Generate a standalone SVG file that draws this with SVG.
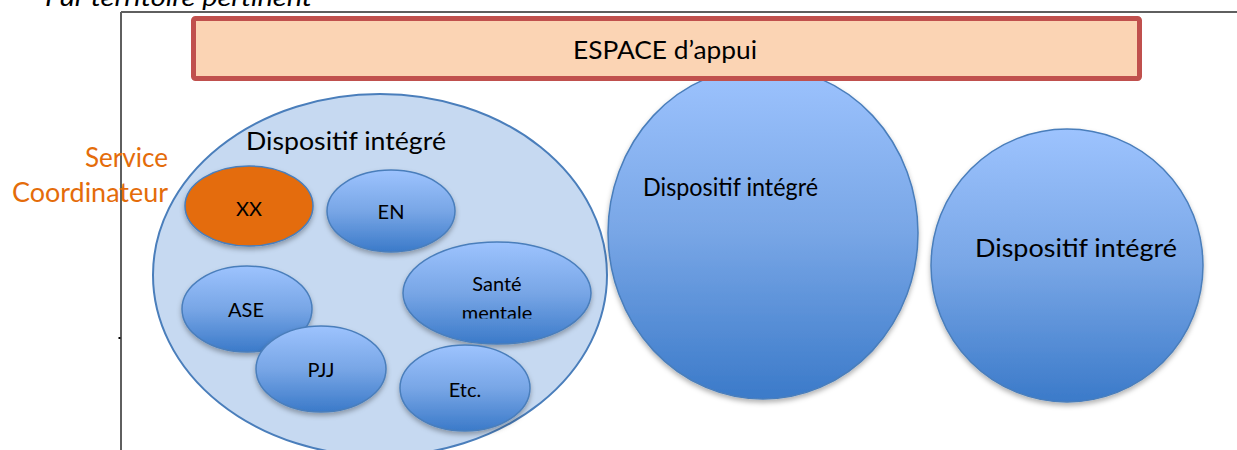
<svg xmlns="http://www.w3.org/2000/svg" width="1237" height="450" viewBox="0 0 1237 450">
  <style>
    text { font-family: Lato, "Open Sans", "Liberation Sans", sans-serif; fill: #000; }
    .frame { stroke: #5f5f5f; stroke-width: 2; fill: none; }
    .outer { fill: #C6D9F1; stroke: #4A7EBB; stroke-width: 2; }
    .unit { fill: url(#blueGrad); stroke: #4A7EBB; stroke-width: 1.5; filter: url(#shadow); }
    .big { fill: url(#blueGrad); stroke: #4A7EBB; stroke-width: 1.5; filter: url(#shadow); }
    .coord { fill: #E46C0A; stroke: #4A7EBB; stroke-width: 1.5; filter: url(#shadow); }
    .lbl-big { font-size: 25px; }
    .lbl-unit { font-size: 20px; text-anchor: middle; }
    .orange { fill: #E46C0A; font-size: 26px; text-anchor: end; }
  </style>
  <defs>
    <linearGradient id="blueGrad" x1="0" y1="0" x2="0" y2="1">
      <stop offset="0" stop-color="#9DC3FE"/>
      <stop offset="0.5" stop-color="#78A6E6"/>
      <stop offset="1" stop-color="#3B7AC9"/>
    </linearGradient>
    <filter id="shadow" x="-10%" y="-10%" width="120%" height="125%">
      <feDropShadow dx="0" dy="3" stdDeviation="2.5" flood-color="#000" flood-opacity="0.3"/>
    </filter>
    <clipPath id="santeClip">
      <rect x="400" y="240" width="200" height="78.5"/>
    </clipPath>
  </defs>

  <!-- territory frame -->
  <g id="frame">
    <line class="frame" x1="121" y1="12" x2="121" y2="450"/>
    <line class="frame" x1="121" y1="12" x2="1237" y2="12"/>
    <rect x="118.5" y="337" width="2" height="2" fill="#000"/>
  </g>

  <g id="title">
    <text x="45" y="6" font-size="24" font-style="italic" textLength="267" lengthAdjust="spacingAndGlyphs">Par territoire pertinent</text>
  </g>

  <!-- first integrated system with its member services -->
  <g id="dispositif-1">
    <ellipse class="outer" cx="380" cy="275" rx="227" ry="181"/>
    <text class="lbl-big" x="246" y="150" textLength="200" lengthAdjust="spacingAndGlyphs">Dispositif intégré</text>
  </g>

  <g id="service-coordinateur">
    <text class="orange" x="168" y="167" textLength="83" lengthAdjust="spacingAndGlyphs">Service</text>
    <text class="orange" x="168" y="202" textLength="156" lengthAdjust="spacingAndGlyphs">Coordinateur</text>
  </g>

  <g id="xx">
    <ellipse class="coord" cx="249" cy="206" rx="64" ry="40"/>
    <text class="lbl-unit" x="249" y="216" font-size="21">XX</text>
  </g>

  <g id="en">
    <ellipse class="unit" cx="391" cy="211" rx="64" ry="41"/>
    <text class="lbl-unit" x="391" y="219">EN</text>
  </g>

  <g id="sante-mentale">
    <ellipse class="unit" cx="497" cy="293" rx="94" ry="51"/>
    <text class="lbl-unit" x="497" y="291">Santé</text>
    <text class="lbl-unit" x="497" y="320" clip-path="url(#santeClip)">mentale</text>
  </g>

  <g id="ase">
    <ellipse class="unit" cx="247" cy="309" rx="65" ry="43"/>
    <text class="lbl-unit" x="246" y="317">ASE</text>
  </g>

  <g id="pjj">
    <ellipse class="unit" cx="321" cy="369" rx="65" ry="43"/>
    <text class="lbl-unit" x="321" y="377">PJJ</text>
  </g>

  <g id="etc">
    <ellipse class="unit" cx="465" cy="388" rx="65" ry="43"/>
    <text class="lbl-unit" x="465" y="397">Etc.</text>
  </g>

  <!-- second and third integrated systems -->
  <g id="dispositif-2">
    <ellipse class="big" cx="763" cy="233" rx="155" ry="166"/>
    <text class="lbl-big" x="643" y="196" font-size="24" textLength="175" lengthAdjust="spacingAndGlyphs">Dispositif intégré</text>
  </g>

  <g id="dispositif-3">
    <ellipse class="big" cx="1067" cy="265.5" rx="136" ry="136.5"/>
    <text class="lbl-big" x="975" y="257" textLength="202" lengthAdjust="spacingAndGlyphs">Dispositif intégré</text>
  </g>

  <!-- shared support space -->
  <g id="espace-appui">
    <rect x="193.5" y="18.5" width="946" height="60" rx="2" fill="#FBD4B4" stroke="#C0504D" stroke-width="5"/>
    <text x="573" y="59" font-size="25" textLength="184" lengthAdjust="spacingAndGlyphs">ESPACE d’appui</text>
  </g>

  <g id="connectors"></g>
</svg>
